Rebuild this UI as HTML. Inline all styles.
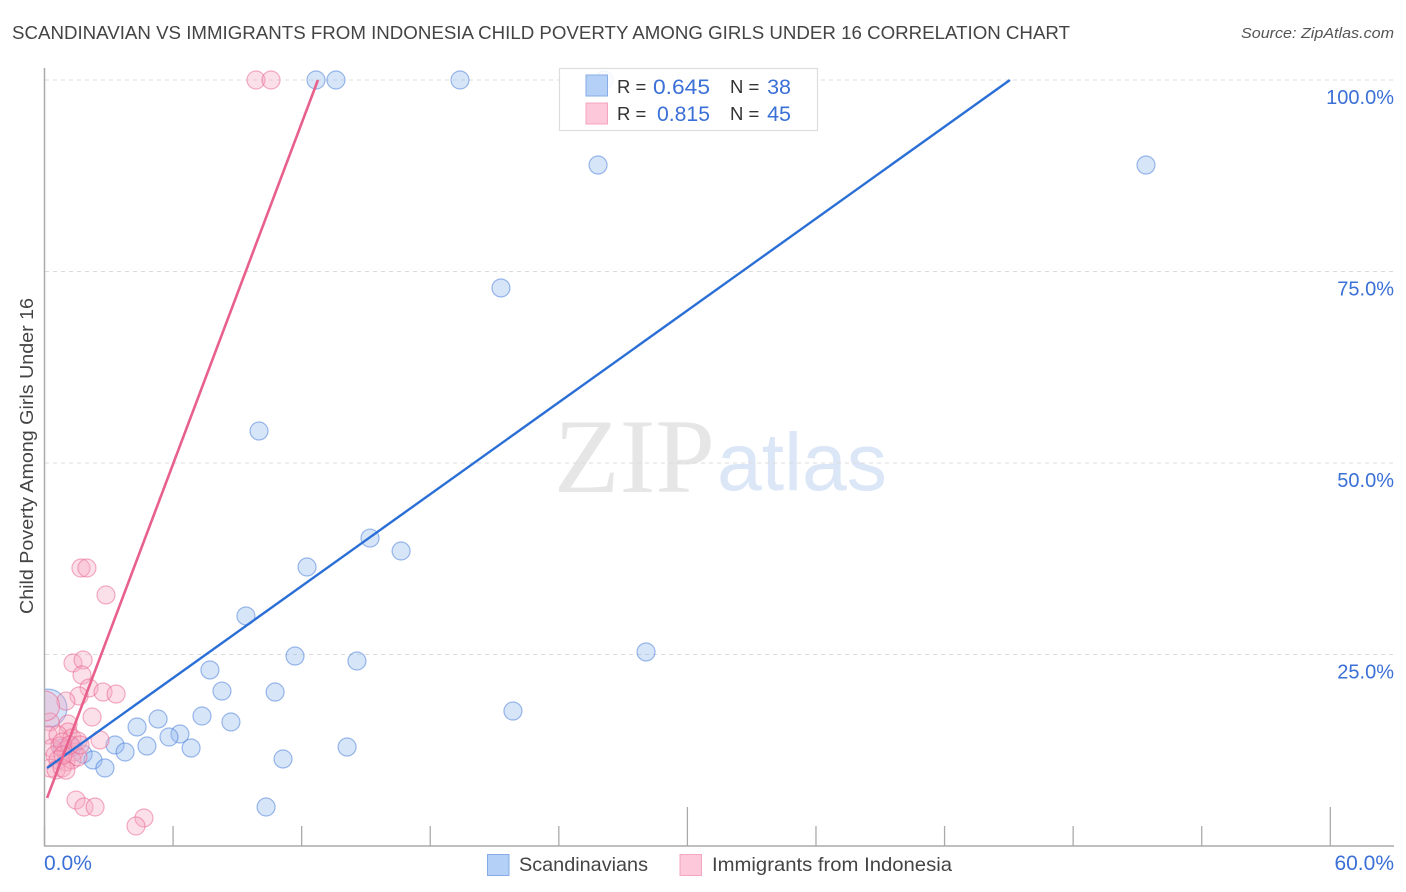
<!DOCTYPE html>
<html lang="en">
<head>
<meta charset="utf-8">
<title>Scandinavian vs Immigrants from Indonesia Correlation Chart</title>
<style>
html,body{margin:0;padding:0;background:#fff;}
svg{display:block;font-family:"Liberation Sans",sans-serif;}
</style>
</head>
<body>
<svg id="chart" width="1406" height="892" viewBox="0 0 1406 892" xmlns="http://www.w3.org/2000/svg">
  <defs><clipPath id="plot-clip"><rect x="45" y="60" width="1349" height="786"/></clipPath></defs>
  <text x="12" y="39" font-size="18.5" fill="#444" textLength="1058" lengthAdjust="spacingAndGlyphs">SCANDINAVIAN VS IMMIGRANTS FROM INDONESIA CHILD POVERTY AMONG GIRLS UNDER 16 CORRELATION CHART</text>
  <text x="1394" y="38" font-size="15" font-style="italic" fill="#555" text-anchor="end" textLength="153" lengthAdjust="spacingAndGlyphs">Source: ZipAtlas.com</text>
  <g>
    <text x="554" y="492" font-family="'Liberation Serif',serif" font-size="106" fill="#e6e6e6" textLength="161" lengthAdjust="spacingAndGlyphs">ZIP</text>
    <text x="717" y="490" font-size="82" fill="#dbe6f7" textLength="170" lengthAdjust="spacingAndGlyphs">atlas</text>
  </g>
  <g id="grid"></g>
  <g id="axes"></g>
  <g id="points" clip-path="url(#plot-clip)"></g>
  <g id="lines"></g>
  <text transform="translate(33,456) rotate(-90)" font-size="18" fill="#444" text-anchor="middle" textLength="316" lengthAdjust="spacingAndGlyphs">Child Poverty Among Girls Under 16</text>
  <g id="ticklabels"></g>
  <g>
    <rect x="559.5" y="68.5" width="258" height="62" fill="#fff" fill-opacity="0.88" stroke="#ddd" stroke-width="1.2"/>
    <rect x="586" y="75" width="21.5" height="21" fill="#b5d0f7" stroke="#86abe6" stroke-width="1"/>
    <rect x="586" y="103" width="21.5" height="21" fill="#fcc8da" stroke="#f5a5c0" stroke-width="1"/>
    <g>
      <text x="617" y="93" fill="#333" font-size="18.5">R =</text>
      <text x="653" y="94" fill="#3b70d6" font-size="21.5" textLength="57" lengthAdjust="spacingAndGlyphs">0.645</text>
      <text x="730" y="93" fill="#333" font-size="18.5">N =</text>
      <text x="791" y="94" fill="#3b70d6" font-size="21.5" text-anchor="end">38</text>
      <text x="617" y="120" fill="#333" font-size="18.5">R =</text>
      <text x="657" y="121" fill="#3b70d6" font-size="21.5" textLength="53" lengthAdjust="spacingAndGlyphs">0.815</text>
      <text x="730" y="120" fill="#333" font-size="18.5">N =</text>
      <text x="791" y="121" fill="#3b70d6" font-size="21.5" text-anchor="end">45</text>
    </g>
  </g>
  <g>
    <rect x="487.5" y="854.5" width="21.5" height="21" fill="#b5d0f7" stroke="#86abe6" stroke-width="1"/>
    <text x="519" y="871" font-size="19.5" fill="#444" textLength="129" lengthAdjust="spacingAndGlyphs">Scandinavians</text>
    <rect x="680" y="854.5" width="21.5" height="21" fill="#fcc8da" stroke="#f5a5c0" stroke-width="1"/>
    <text x="712" y="871" font-size="19.5" fill="#444" textLength="240" lengthAdjust="spacingAndGlyphs">Immigrants from Indonesia</text>
  </g>
</svg>
<script>
const blueX = [12.67,13.6,19.39,26.11,25.83,51.4,21.3,10.01,15.19,16.64,12.25,9.4,28.07,11.69,14.58,7.72,8.28,10.76,21.86,7.35,8.7,5.3,4.32,6.32,5.81,4.78,6.84,14.12,3.29,3.76,11.13,1.8,2.26,2.82,10.34,1.28,0.82];
const blueY = [100,100,100,100,88.9,88.9,72.85,54.18,40.2,38.51,36.42,30.03,25.33,24.8,24.15,22.98,20.23,20.1,17.62,16.97,16.19,16.58,15.54,14.62,14.23,13.05,12.79,12.92,13.19,12.27,11.36,12.0,11.23,10.18,5.09,12.92,12.79];
const blueLargeX = [0.16];
const blueLargeY = [18.0];
const pinkX = [9.87,10.57,1.7,1.98,2.87,1.33,1.8,1.75,2.08,1.61,2.73,3.34,1.0,2.22,2.59,1.47,1.84,2.36,4.64,4.27,0.26,1.1,1.1,0.16,0.63,1.28,0.35,0.72,1.0,1.38,1.56,0.49,0.63,1.0,1.28,1.56,0.26,0.54,0.82,1.0,0.82,1.19,0.86,1.66];
const pinkY = [100,100,36.29,36.29,32.77,23.89,24.28,22.32,20.63,19.58,20.1,19.84,18.92,16.84,13.84,6.0,5.09,5.09,3.66,2.61,16.19,15.93,14.88,14.49,14.49,14.1,12.79,13.05,12.53,12.27,13.7,11.88,11.23,10.97,11.23,11.62,10.18,9.92,10.18,9.9,13.58,13.19,11.88,13.19];
const pinkLargeX = [0.0];
const pinkLargeY = [18.28];
const blueTrendX = [0.12,45.05];
const blueTrendY = [10.18,100];
const pinkTrendX = [0.12,12.76];
const pinkTrendY = [6.27,100];
const yTicks = [100,75,50,25];
const yTickLabels = ["100.0%","75.0%","50.0%","25.0%"];
const xTicks = [0,6,12,18,24,30,36,42,48,54,60];
const xMajorTicks = [30,60];
const xEndTicks = [0,60];
const xEndLabels = ["0.0%","60.0%"];

const NS = "http://www.w3.org/2000/svg";
function sx(v){ return 44.5 + v * 21.43; }
function sy(v){ return 846 - v * 7.66; }
function make(tag, parent, attrs){
  const el = document.createElementNS(NS, tag);
  for (const k in attrs) el.setAttribute(k, attrs[k]);
  parent.appendChild(el);
  return el;
}
const grid = document.getElementById("grid");
const axes = document.getElementById("axes");
const points = document.getElementById("points");
const lines = document.getElementById("lines");
const labels = document.getElementById("ticklabels");

yTicks.forEach(function(t, i){
  const g = make("line", grid, {x1:45, x2:1394, y1:sy(t), y2:sy(t), stroke:"#dcdcdc", "stroke-width":1, "stroke-dasharray":"4 4"});
  
  
  const l = make("text", labels, {x:1394, y:sy(t)+24, "font-size":20, fill:"#3b70d6", "text-anchor":"end"});
  l.textContent = yTickLabels[i];
  
  
});

const yAxis = make("line", axes, {x1:44.5, x2:44.5, y1:68, y2:846, stroke:"#aaa", "stroke-width":1.5});


const xAxis = make("line", axes, {x1:44, x2:1394, y1:846, y2:846, stroke:"#aaa", "stroke-width":1.5});


xTicks.forEach(function(t){
  const top = xMajorTicks.indexOf(t) >= 0 ? 807 : 826;
  const m = make("line", axes, {x1:sx(t), x2:sx(t), y1:top, y2:846, stroke:"#aaa", "stroke-width":1.3});
  
  
});
xEndTicks.forEach(function(t, i){
  const l = make("text", labels, {x: i === 0 ? 44 : 1394, y:870, "font-size":21, fill:"#3b70d6", "text-anchor": i === 0 ? "start" : "end"});
  l.textContent = xEndLabels[i];
  
  
});

function drawPoints(xs, ys, r, fill, stroke, name){
  xs.forEach(function(x, i){
    const c = make("circle", points, {cx:sx(x), cy:sy(ys[i]), r:r, fill:fill, "fill-opacity":0.36, stroke:stroke, "stroke-opacity":0.5, "stroke-width":1.2});
    
    
  });
}
drawPoints(blueX, blueY, 9, "#8fb6ee", "#3f78d8", "point-scandinavians");
drawPoints(blueLargeX, blueLargeY, 19, "#8fb6ee", "#3f78d8", "point-scandinavians-large");
drawPoints(pinkX, pinkY, 9, "#f7a8c2", "#e8608c", "point-indonesia");
drawPoints(pinkLargeX, pinkLargeY, 15, "#f7a8c2", "#e8608c", "point-indonesia-large");

const blueLine = make("line", lines, {x1:sx(blueTrendX[0]), y1:sy(blueTrendY[0]), x2:sx(blueTrendX[1]), y2:sy(blueTrendY[1]), stroke:"#2a6fd6", "stroke-width":2.4});


const pinkLine = make("line", lines, {x1:sx(pinkTrendX[0]), y1:sy(pinkTrendY[0]), x2:sx(pinkTrendX[1]), y2:sy(pinkTrendY[1]), stroke:"#e8608c", "stroke-width":2.6});


</script>
</body>
</html>
